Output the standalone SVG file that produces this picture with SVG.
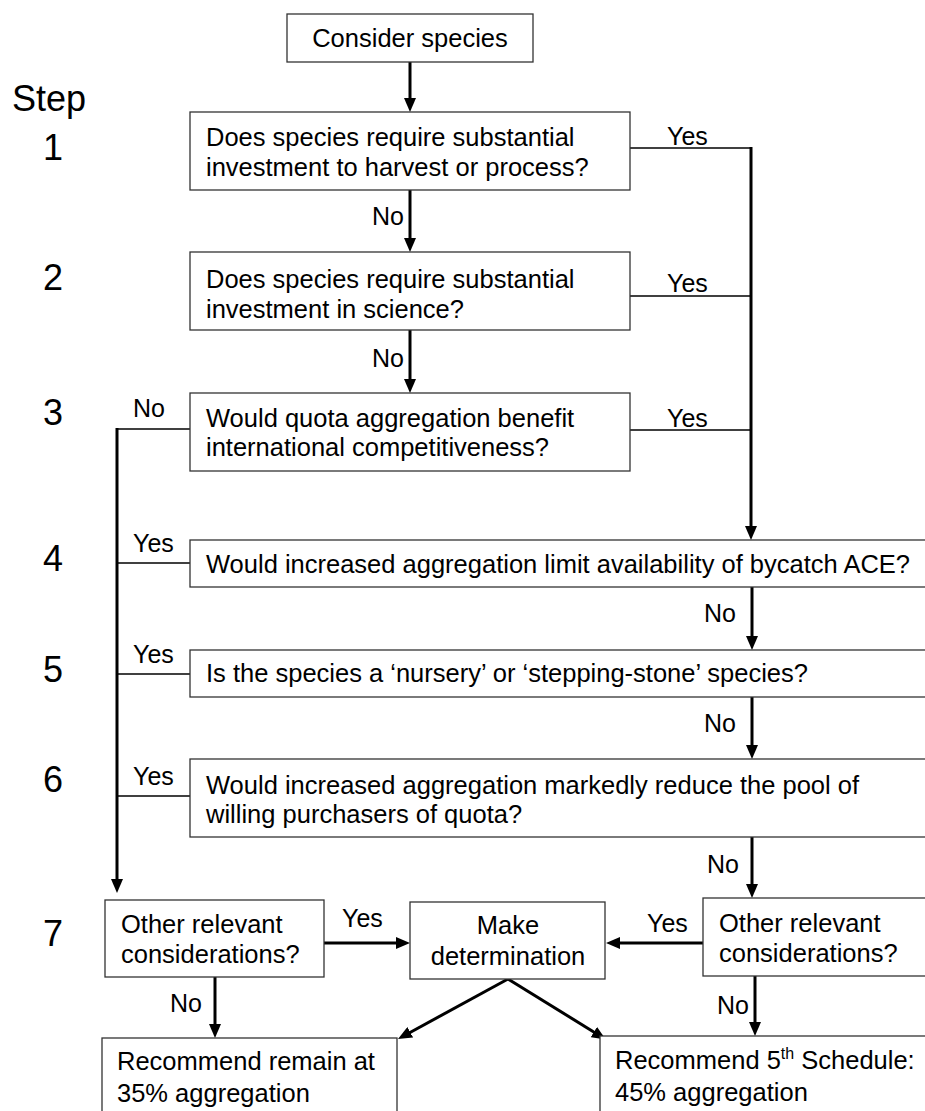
<svg xmlns="http://www.w3.org/2000/svg" width="925" height="1111" viewBox="0 0 925 1111">
<style>
.box{fill:#fff;stroke:#333;stroke-width:1.3}
.t{font-family:"Liberation Sans",Arial,sans-serif;font-size:25.5px;fill:#000}
.lbl{font-family:"Liberation Sans",Arial,sans-serif;font-size:25px;fill:#000}
.step{font-family:"Liberation Sans",Arial,sans-serif;font-size:36px;fill:#000}
.thin{fill:none;stroke:#000;stroke-width:1.3}
.arr{fill:none;stroke:#000;stroke-width:3;marker-end:url(#ah)}
</style>
<defs>
<marker id="ah" viewBox="0 0 14 12" refX="6" refY="6" markerWidth="14" markerHeight="12" orient="auto" markerUnits="userSpaceOnUse">
<path d="M0,0 L14,6 L0,12 z" fill="#000"/>
</marker>
</defs>
<rect width="925" height="1111" fill="#fff"/>
<g id="steps" class="step">
<text x="12" y="111">Step</text>
<text x="43" y="160">1</text>
<text x="43" y="290">2</text>
<text x="43" y="425">3</text>
<text x="43" y="571">4</text>
<text x="43" y="682">5</text>
<text x="43" y="792">6</text>
<text x="43" y="946">7</text>
</g>
<g id="connectors">
<line class="arr" x1="410" y1="62" x2="410" y2="104"/>
<line class="arr" x1="410" y1="190" x2="410" y2="244"/>
<line class="arr" x1="410" y1="330" x2="410" y2="385"/>
<line class="thin" x1="630" y1="148" x2="751" y2="148"/>
<line class="thin" x1="630" y1="296" x2="751" y2="296"/>
<line class="thin" x1="630" y1="430" x2="751" y2="430"/>
<line class="arr" x1="751" y1="147" x2="751" y2="532"/>
<line class="thin" x1="117" y1="429" x2="190" y2="429"/>
<line class="thin" x1="117" y1="563" x2="190" y2="563"/>
<line class="thin" x1="117" y1="674" x2="190" y2="674"/>
<line class="thin" x1="117" y1="796" x2="190" y2="796"/>
<line class="arr" x1="117" y1="428" x2="117" y2="885"/>
<line class="arr" x1="752" y1="587" x2="752" y2="642"/>
<line class="arr" x1="752" y1="697" x2="752" y2="751"/>
<line class="arr" x1="752" y1="837" x2="752" y2="890"/>
<line class="arr" x1="755" y1="976" x2="755" y2="1028"/>
<line class="arr" x1="215" y1="977" x2="215" y2="1030"/>
<line class="arr" x1="324" y1="943" x2="402" y2="943"/>
<line class="arr" x1="703" y1="943" x2="614" y2="943"/>
<line class="arr" x1="508" y1="979" x2="405" y2="1035.2"/>
<line class="arr" x1="508" y1="979" x2="599" y2="1035.2"/>
<g class="lbl">
<text x="372" y="225">No</text>
<text x="372" y="367">No</text>
<text x="667" y="145">Yes</text>
<text x="667" y="292">Yes</text>
<text x="667" y="427">Yes</text>
<text x="133" y="417">No</text>
<text x="133" y="552">Yes</text>
<text x="133" y="663">Yes</text>
<text x="133" y="785">Yes</text>
<text x="704" y="622">No</text>
<text x="704" y="732">No</text>
<text x="707" y="873">No</text>
<text x="717" y="1014">No</text>
<text x="170" y="1012">No</text>
<text x="342" y="927">Yes</text>
<text x="647" y="932">Yes</text>
</g>
</g>
<g id="n0"><rect class="box" x="287" y="14" width="246" height="48"/><text class="t" x="410" y="47" text-anchor="middle">Consider species</text></g>
<g id="n1"><rect class="box" x="190" y="112" width="440" height="78"/><text class="t" x="206" y="146">Does species require substantial</text><text class="t" x="206" y="176">investment to harvest or process?</text></g>
<g id="n2"><rect class="box" x="190" y="252" width="440" height="78"/><text class="t" x="206" y="288">Does species require substantial</text><text class="t" x="206" y="318">investment in science?</text></g>
<g id="n3"><rect class="box" x="190" y="393" width="440" height="78"/><text class="t" x="206" y="427">Would quota aggregation benefit</text><text class="t" x="206" y="456">international competitiveness?</text></g>
<g id="n4"><rect class="box" x="190" y="540" width="740" height="47"/><text class="t" x="206" y="573">Would increased aggregation limit availability of bycatch ACE?</text></g>
<g id="n5"><rect class="box" x="190" y="650" width="740" height="47"/><text class="t" x="206" y="682">Is the species a ‘nursery’ or ‘stepping-stone’ species?</text></g>
<g id="n6"><rect class="box" x="190" y="759" width="740" height="78"/><text class="t" x="206" y="794">Would increased aggregation markedly reduce the pool of</text><text class="t" x="206" y="823">willing purchasers of quota?</text></g>
<g id="n7a"><rect class="box" x="105" y="900" width="219" height="77"/><text class="t" x="121" y="933">Other relevant</text><text class="t" x="121" y="963">considerations?</text></g>
<g id="n7b"><rect class="box" x="410" y="902" width="195" height="77"/><text class="t" x="508" y="934" text-anchor="middle">Make</text><text class="t" x="508" y="965" text-anchor="middle">determination</text></g>
<g id="n7c"><rect class="box" x="703" y="898" width="227" height="78"/><text class="t" x="719" y="932">Other relevant</text><text class="t" x="719" y="962">considerations?</text></g>
<g id="n8a"><rect class="box" x="102" y="1038" width="295" height="80"/><text class="t" x="117" y="1070">Recommend remain at</text><text class="t" x="117" y="1102">35% aggregation</text></g>
<g id="n8b"><rect class="box" x="600" y="1036" width="330" height="82"/><text class="t" x="615" y="1069">Recommend 5<tspan font-size="16" dy="-10">th</tspan><tspan dy="10"> Schedule:</tspan></text><text class="t" x="615" y="1101">45% aggregation</text></g>
</svg>
